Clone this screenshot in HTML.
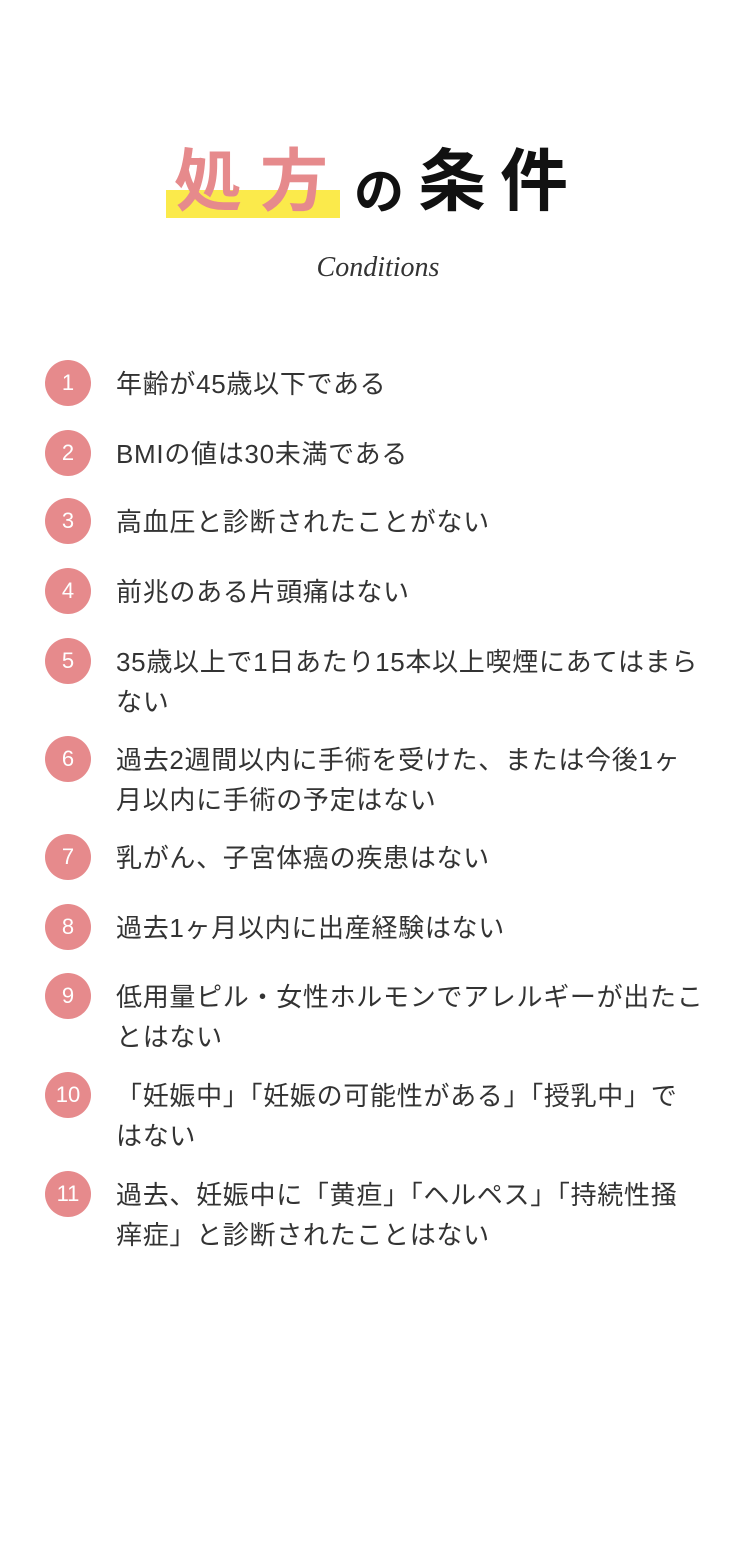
<!DOCTYPE html>
<html><head><meta charset="utf-8"><style>
body{margin:0;background:#fff;}
#p{position:relative;width:750px;height:1560px;overflow:hidden;font-family:"Liberation Sans","Noto Sans CJK JP",sans-serif;}
.bar{position:absolute;left:166px;top:190px;width:174px;height:28px;background:#fbea4b;}
.t{position:absolute;top:126px;font-size:68px;font-weight:bold;line-height:100px;white-space:nowrap;font-family:"Noto Sans CJK JP",sans-serif;}
.c{position:absolute;width:46px;height:46px;border-radius:50%;background:#e68a8c;color:#fff;font-size:22px;line-height:46px;text-align:center;left:45px;}
.x{position:absolute;left:116px;font-size:26px;line-height:40px;color:#333;white-space:nowrap;letter-spacing:0.7px;}
</style></head><body><div id="p">
<div class="bar"></div>
<div class="t" style="left:174px;color:#e68a8c;letter-spacing:18px;">処方</div>
<div class="t" style="left:354px;font-size:50px;top:138px;color:#111;">の</div>
<div class="t" style="left:418px;color:#111;letter-spacing:14px;">条件</div>
<div style="position:absolute;left:300px;top:252px;width:156px;text-align:center;font-family:'Liberation Serif',serif;font-style:italic;font-size:28px;color:#333;">Conditions</div>

<div class="c" style="top:360px">1</div><div class="x" style="top:364px">年齢が45歳以下である</div>
<div class="c" style="top:430px">2</div><div class="x" style="top:434px">BMIの値は30未満である</div>
<div class="c" style="top:498px">3</div><div class="x" style="top:502px">高血圧と診断されたことがない</div>
<div class="c" style="top:568px">4</div><div class="x" style="top:572px">前兆のある片頭痛はない</div>
<div class="c" style="top:638px">5</div><div class="x" style="top:642px">35歳以上で1日あたり15本以上喫煙にあてはまら<br>ない</div>
<div class="c" style="top:736px">6</div><div class="x" style="top:740px">過去2週間以内に手術を受けた、または今後1ヶ<br>月以内に手術の予定はない</div>
<div class="c" style="top:834px">7</div><div class="x" style="top:838px">乳がん、子宮体癌の疾患はない</div>
<div class="c" style="top:904px">8</div><div class="x" style="top:908px">過去1ヶ月以内に出産経験はない</div>
<div class="c" style="top:973px">9</div><div class="x" style="top:977px">低用量ピル・女性ホルモンでアレルギーが出たこ<br>とはない</div>
<div class="c" style="top:1072px">10</div><div class="x" style="top:1076px">「妊娠中」「妊娠の可能性がある」「授乳中」で<br>はない</div>
<div class="c" style="top:1171px">11</div><div class="x" style="top:1175px">過去、妊娠中に「黄疸」「ヘルペス」「持続性掻<br>痒症」と診断されたことはない</div>
</div></body></html>
